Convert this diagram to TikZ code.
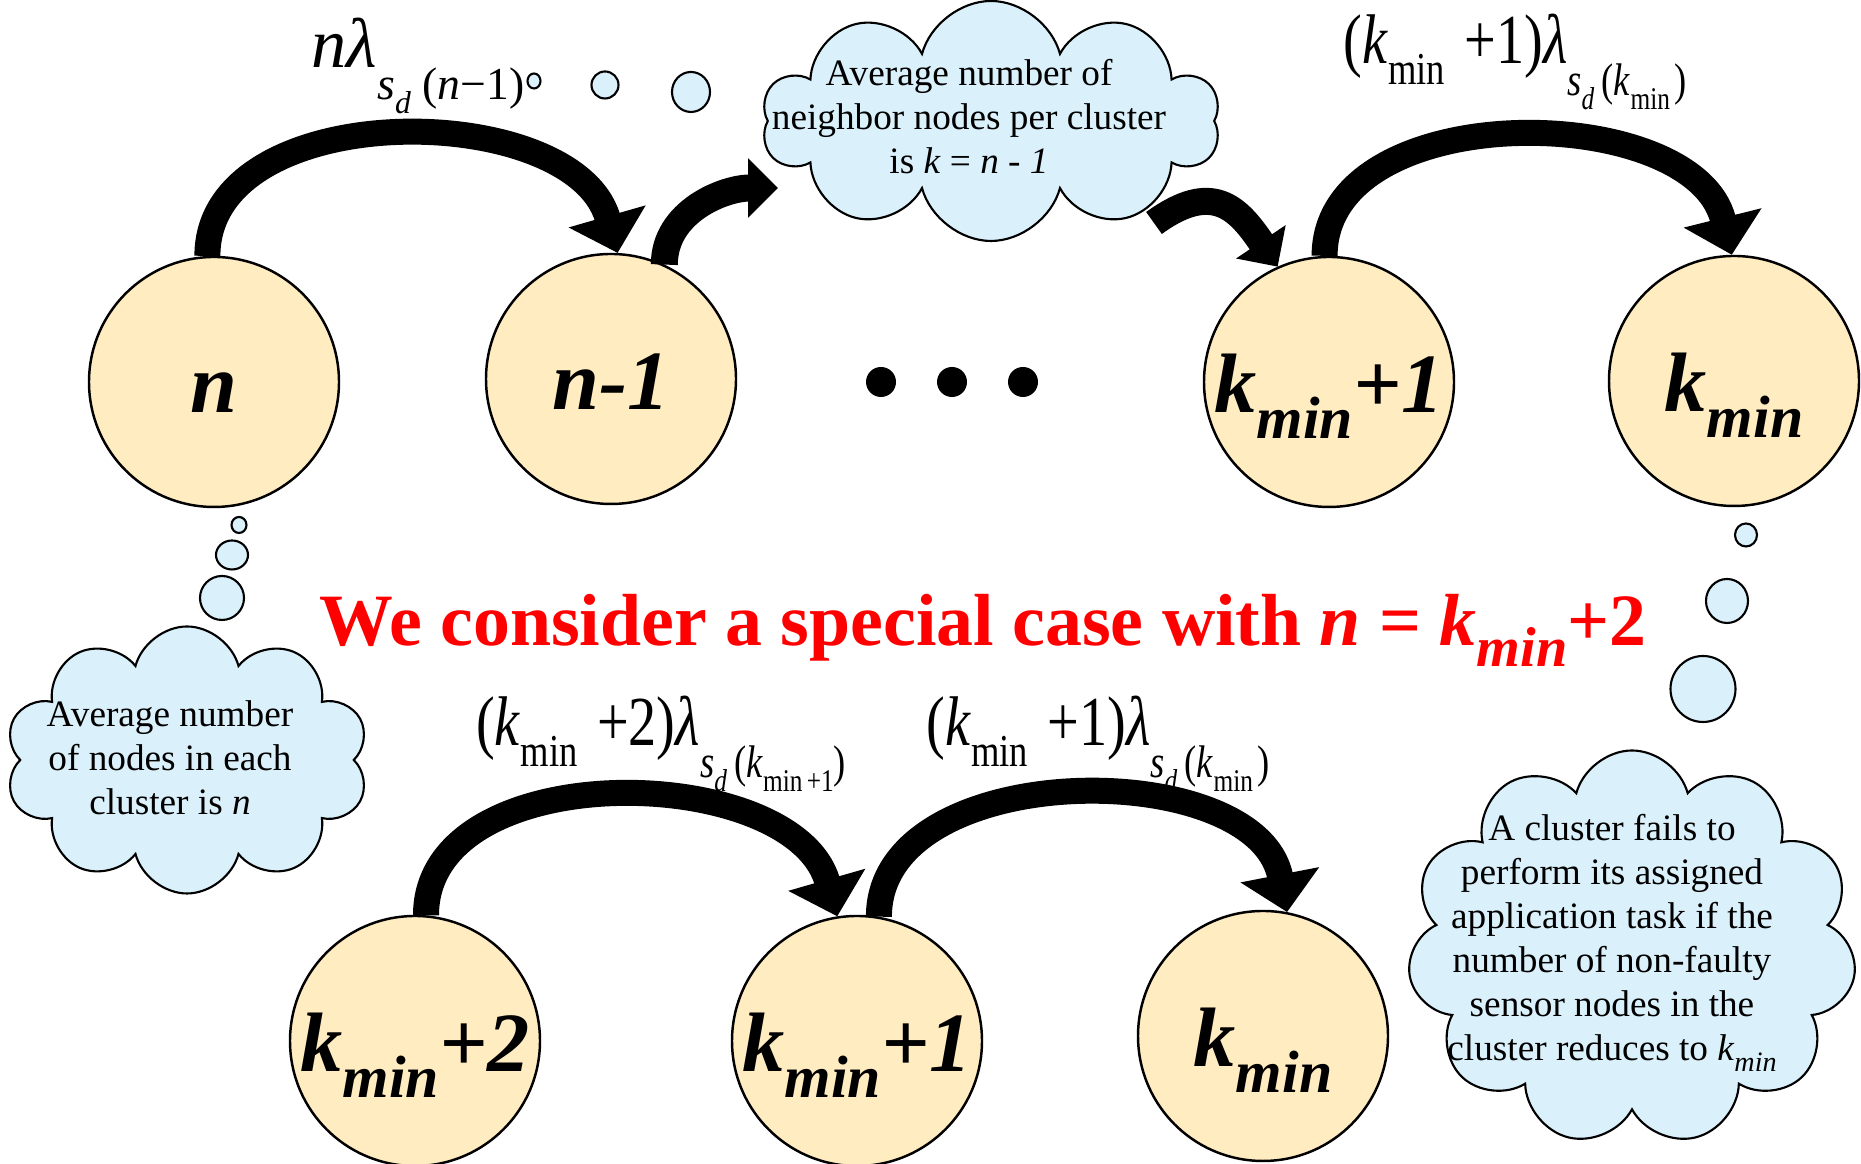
\documentclass[tikz,border=0pt]{standalone}
\usepackage{fontspec}
\setmainfont{Liberation Serif}
\usepackage{graphicx}
\usepackage{tikz}
\usetikzlibrary{arrows.meta, positioning, shapes.symbols, shapes.geometric}
\definecolor{stateYellow}{RGB}{255,236,192}
\definecolor{cloudBlue}{RGB}{218,240,250}
\newcommand{\lowmin}{\raisebox{-0.3em}{\fontsize{17}{17}\selectfont min}}
\newcommand{\ratelabel}[2]{\scalebox{0.8}[1]{\fontsize{20}{20}\selectfont(\textit{k}\raisebox{-0.3em}{\fontsize{13}{13}\selectfont min}\hspace{0.35em}+#1)\textit{λ}\raisebox{-0.45em}{\fontsize{13}{13}\selectfont\textit{s}\raisebox{-0.3em}{\fontsize{9}{9}\selectfont\textit{d}}\hspace{0.2em}(\textit{k}\raisebox{-0.3em}{\fontsize{9}{9}\selectfont #2})}}}

\begin{document}
\begin{tikzpicture}[
    state/.style={circle, draw, line width=0.7pt, fill=stateYellow, minimum size=2.5cm, inner sep=0pt, text height=0.62cm, text depth=0pt, font=\fontsize{24}{24}\selectfont\bfseries\itshape},
    puff/.style={cloud, cloud puffs=10, cloud ignores aspect, draw, line width=0.6pt, fill=cloudBlue, inner sep=0pt},
    bubble/.style={ellipse, draw, line width=0.6pt, fill=cloudBlue, inner sep=0pt},
    note/.style={align=center, font=\fontsize{10.6}{12.5}\selectfont},
    bigarrow/.style={line width=0.26cm, -{Triangle[width=0.78cm, length=0.38cm]}},
    smallarrow/.style={line width=0.27cm, -{Triangle[width=0.58cm, length=0.3cm]}}
]
    \useasboundingbox (0,0) rectangle (18.61,11.64);

    \node[state] (n) at (2.14, 7.82) {n};
    \node[state] (n1) at (6.11, 7.85) {n-1};
    \node[state] (k1) at (13.29, 7.82) {k\lowmin+1};
    \node[state] (km) at (17.34, 7.83) {k\lowmin};
    \node[state] (k2b) at (4.15, 1.23) {k\lowmin+2};
    \node[state] (k1b) at (8.57, 1.23) {k\lowmin+1};
    \node[state] (kmb) at (12.63, 1.28) {k\lowmin};

    \node[circle, fill, minimum size=0.3cm, inner sep=0pt] (dot1) at (8.81, 7.82) {};
    \node[circle, fill, minimum size=0.3cm, inner sep=0pt] (dot2) at (9.52, 7.82) {};
    \node[circle, fill, minimum size=0.3cm, inner sep=0pt] (dot3) at (10.23, 7.82) {};

    \node[puff, minimum width=4.58cm, minimum height=2.4cm] (cloudK) at (9.91, 10.43) {};
    \node[puff, minimum width=3.64cm, minimum height=2.67cm] (cloudN) at (1.87, 4.04) {};
    \node[puff, cloud puffs=11, minimum width=4.49cm, minimum height=3.95cm] (cloudF) at (16.32, 2.16) {};

    \node[bubble, minimum width=0.13cm, minimum height=0.15cm] (bk1) at (5.34, 10.83) {};
    \node[bubble, minimum width=0.27cm, minimum height=0.27cm] (bk2) at (6.05, 10.79) {};
    \node[bubble, minimum width=0.38cm, minimum height=0.40cm] (bk3) at (6.91, 10.72) {};
    \node[bubble, minimum width=0.15cm, minimum height=0.16cm] (bn1) at (2.39, 6.39) {};
    \node[bubble, minimum width=0.32cm, minimum height=0.29cm] (bn2) at (2.32, 6.09) {};
    \node[bubble, minimum width=0.44cm, minimum height=0.44cm] (bn3) at (2.22, 5.66) {};
    \node[bubble, minimum width=0.22cm, minimum height=0.23cm] (bf1) at (17.46, 6.29) {};
    \node[bubble, minimum width=0.42cm, minimum height=0.44cm] (bf2) at (17.27, 5.63) {};
    \node[bubble, minimum width=0.65cm, minimum height=0.66cm] (bf3) at (17.03, 4.75) {};

    \node[note] (txtK) at (9.69, 10.47) {Average number of\\neighbor nodes per cluster\\is \textit{k} = \textit{n} - \textit{1}};
    \node[note] (txtN) at (1.70, 4.06) {Average number\\of nodes in each\\cluster is \textit{n}};
    \node[note] (txtF) at (16.12, 2.21) {A cluster fails to\\perform its assigned\\application task if the\\number of non-faulty\\sensor nodes in the\\cluster reduces to \textit{k}\raisebox{-0.3em}{\footnotesize\textit{min}}};

    \node (rateA) at (4.18, 10.98) {\fontsize{20}{20}\selectfont\textit{nλ}\raisebox{-0.45em}{\fontsize{13}{13}\selectfont\textit{s}\raisebox{-0.3em}{\fontsize{9}{9}\selectfont\textit{d}}\hspace{0.25em}(\textit{n}−1)}};
    \node (rateB) at (15.15, 11.02) {\ratelabel{1}{min\,}};
    \node (rateC) at (6.61, 4.20) {\ratelabel{2}{min\,+1}};
    \node (rateD) at (10.98, 4.20) {\ratelabel{1}{min\,}};

    \node[anchor=base, text=red, font=\fontsize{21}{21}\selectfont\bfseries] (headline) at (9.83, 5.18) {We consider a special case with \textit{n} = \textit{k}\raisebox{-0.28em}{\fontsize{16}{16}\selectfont\textit{min}}+2};

    \coordinate (kTail) at (11.54, 9.41);
    \coordinate (kHead) at (7.78, 9.76);

    \draw[bigarrow] (n.93) to[out=90, in=106] (n1.87);
    \draw[smallarrow] (n1.65) to[out=90, in=180] (kHead);
    \draw[smallarrow] (kTail) to[out=36, in=124, looseness=1.4] (k1.114);
    \draw[bigarrow] (k1.92) to[out=90, in=104] (km.91);
    \draw[bigarrow] (k2b.85) to[out=90, in=106] (k1b.99);
    \draw[bigarrow] (k1b.80) to[out=90, in=101] (kmb.79);
\end{tikzpicture}
\end{document}
